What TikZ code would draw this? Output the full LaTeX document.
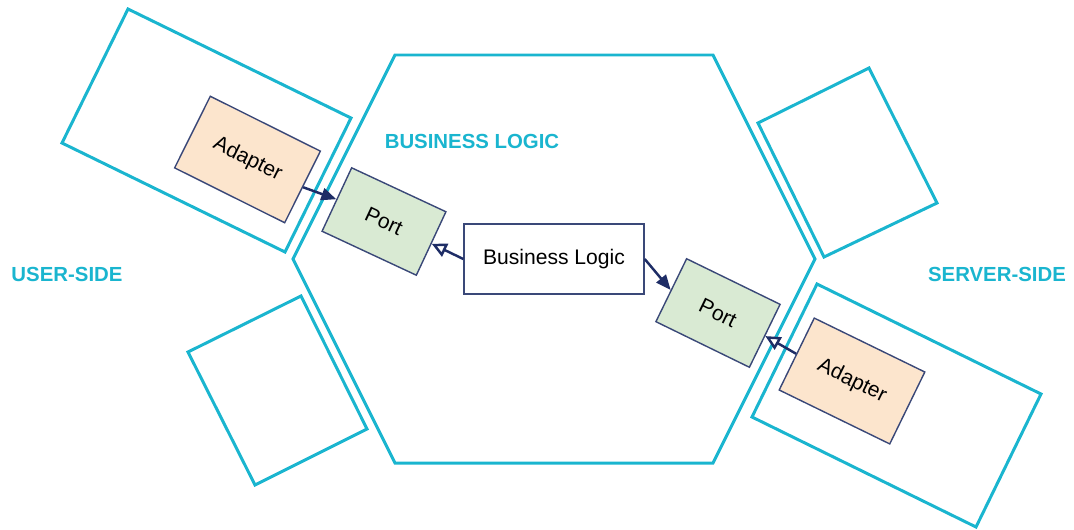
\documentclass[tikz,border=0pt]{standalone}
\usepackage{fontspec}
\setmainfont{Liberation Sans}
\usepackage{tikz}
\usetikzlibrary{arrows.meta}

\definecolor{hexcyan}{HTML}{1AB5CF}
\definecolor{boxnavy}{HTML}{3A4878}
\definecolor{arrownavy}{HTML}{1E2D66}
\definecolor{adapterfill}{HTML}{FCE5CD}
\definecolor{portfill}{HTML}{D9EAD3}

\tikzset{
  frame/.style={draw=hexcyan, line width=1.7pt},
  adapterbox/.style={draw=boxnavy, fill=adapterfill, line width=0.8pt,
    minimum width=2.46cm, minimum height=1.60cm, inner sep=0pt},
  portbox/.style={draw=boxnavy, fill=portfill, line width=0.8pt,
    minimum width=2.08cm, minimum height=1.40cm, inner sep=0pt},
  logicbox/.style={draw=boxnavy, fill=white, line width=0.8pt,
    minimum width=3.60cm, minimum height=1.40cm, inner sep=0pt},
  sidelabel/.style={text=hexcyan, font=\fontsize{11.6}{14}\selectfont\bfseries},
  link/.style={draw=arrownavy, line width=1.4pt},
  filledtip/.style={-{Triangle[length=8.5pt,width=7pt]}},
  opentip/.style={-{Triangle[open,length=8.5pt,width=8pt,fill=white]}}
}

\begin{document}
\begin{tikzpicture}[font=\fontsize{12}{14}\selectfont]
    \useasboundingbox (0,0) rectangle (21.48,10.58);

    % Hexagon around the core
    \draw[frame] (7.90,9.48) -- (14.26,9.48) -- (16.30,5.40) -- (14.26,1.32)
        -- (7.90,1.32) -- (5.86,5.40) -- cycle;

    % Frames on both sides
    \draw[frame] (2.56,10.40) -- (7.02,8.22) -- (5.70,5.54) -- (1.24,7.72) -- cycle;
    \draw[frame] (17.38,9.22) -- (18.74,6.52) -- (16.48,5.44) -- (15.16,8.12) -- cycle;
    \draw[frame] (6.02,4.66) -- (7.34,2.00) -- (5.10,0.88) -- (3.76,3.54) -- cycle;
    \draw[frame] (16.34,4.90) -- (20.82,2.70) -- (19.52,0.04) -- (15.04,2.24) -- cycle;

    % Labels
    \node[sidelabel] (corelabel) at (9.44,7.76) {BUSINESS LOGIC};
    \node[sidelabel] (userlabel) at (1.34,5.10) {USER-SIDE};
    \node[sidelabel] (serverlabel) at (19.94,5.10) {SERVER-SIDE};

    % Boxes
    \node[logicbox] (logic) at (11.08,5.40) {Business Logic};
    \node[adapterbox, rotate=-26.5] (adapterL) at (4.95,7.39) {Adapter};
    \node[portbox, rotate=-25] (portL) at (7.68,6.15) {Port};
    \node[portbox, rotate=-26] (portR) at (14.36,4.32) {Port};
    \node[adapterbox, rotate=-26] (adapterR) at (17.04,2.96) {Adapter};

    % Connections
    \draw[link, filledtip] (adapterL.east) -- (portL.west);
    \draw[link, opentip] (logic.west) -- (portL.east);
    \draw[link, filledtip] (logic.east) -- (portR.west);
    \draw[link, opentip] (adapterR.west) -- (portR.east);
\end{tikzpicture}
\end{document}
